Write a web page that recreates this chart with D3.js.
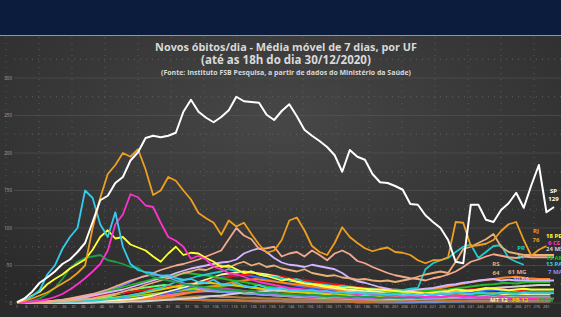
<!DOCTYPE html>
<html>
<head>
<meta charset="utf-8">
<script src="https://d3js.org/d3.v7.min.js"></script>
<style>
html, body { margin: 0; padding: 0; background: #0c1c3c; overflow: hidden; }
svg { display: block; font-family: 'Open Sans', sans-serif; }
</style>
</head>
<body>
<svg width="561" height="317"></svg>
<script>
var svg = d3.select('svg');
var svgWidth = +svg.attr('width');
var svgHeight = +svg.attr('height');

// day grids (day 1 = first day of the series)
var daysFine = d3.range(1, 286, 4);     // 72 points
var daysCoarse = d3.range(1, 284, 6);   // 48 points
var tickDays = d3.range(1, 282, 5);
var yTicks = [0, 50, 100, 150, 200, 250, 300];

// main states, every 4 days
var spValues = [1,6,15,27,34,42,52,58,68,80, 108,137,143,160,168,190,201,220,223,221,
  223,227,255,271,255,247,241,248,257,275, 269,268,267,251,244,256,265,249,231,223,
  216,208,197,175,204,195,191,172,161,160, 156,151,132,131,117,108,100,84,55,53,
  131,131,111,108,124,133,147,127,157,184, 121,128];
var rjValues = [1,3,6,10,14,20,26,32,40,50, 100,140,172,184,200,195,205,178,144,150,
  168,163,150,138,120,113,107,91,110,102, 107,92,78,67,70,84,110,114,97,76,
  68,64,80,101,88,80,73,69,72,74, 68,67,64,57,53,57,57,61,108,107,
  76,77,79,84,96,105,108,84,63,71, 76,null];
var paValues = [1,4,9,17,38,50,72,88,100,150, 140,105,88,121,75,52,44,41,40,36,
  37,33,31,32,28,27,31,25,24,27, 23,21,24,20,19,20,17,17,16,17,
  15,16,13,15,13,14,12,13,12,11, 12,10,11,10,12,11,13,12,14,13,
  12,14,13,12,14,13,12,14,13,13, 13,13];
var ceValues = [0,1,2,3,5,8,12,18,25,33, 42,52,70,105,118,145,141,130,128,107,
  88,83,75,59,63,58,48,45,40,38, 35,31,28,26,24,22,20,19,18,17,
  16,15,14,14,13,12,12,11,11,10, 10,9,10,9,8,9,8,9,10,8,
  9,7,8,7,8,7,6,7,6,6, 6,6];
var peValues = [0,3,10,15,25,32,38,46,52,58, 71,88,97,86,88,78,74,70,62,55,
  66,75,64,67,66,60,55,48,50,45, 40,42,38,36,33,30,32,28,26,25,
  24,22,22,20,21,20,19,18,18,17, 16,15,15,14,13,14,15,16,18,17,
  16,18,20,19,18,17,18,19,18,18, 18,18];
var amValues = [0,1,3,6,12,20,32,46,55,60, 62,64,57,55,52,48,47,40,35,32,
  30,28,25,24,22,21,20,18,17,17, 15,16,14,13,14,12,12,11,10,11,
  10,9,10,9,8,9,8,8,7,8, 7,7,8,7,8,9,8,9,10,9,
  10,11,12,11,13,14,13,15,16,15, 15,15];
var mgValues = [0,0,1,1,2,3,4,6,8,10, 12,15,18,22,26,30,33,36,40,44,
  47,50,52,55,58,62,66,70,85,100, 90,85,72,73,75,62,66,68,62,70,
  64,57,66,70,65,56,53,48,44,40, 37,35,33,32,30,33,35,38,42,48,
  55,58,62,65,63,61,60,62,61,61, 61,61];
var rsValues = [0,0,0,1,1,2,2,3,4,5, 6,8,10,12,15,18,20,24,27,30,
  33,36,40,42,45,44,48,50,47,52, 55,50,53,48,50,46,44,42,45,40,
  38,36,37,34,33,31,32,30,29,30, 28,30,32,35,38,40,42,40,55,72,
  75,80,85,92,75,68,66,64,64,64, 64,64];
var prValues = [0,0,0,1,1,1,2,2,2,3, 3,4,5,6,8,10,12,15,18,20,
  24,28,30,33,36,38,40,42,45,43, 40,42,38,36,35,33,30,32,28,26,
  25,24,22,23,21,20,18,19,17,16, 18,17,19,20,45,53,57,60,68,75,
  78,60,68,76,77,60,55,51,null,null, null,null];
var baValues = [0,0,1,1,2,3,4,5,6,8, 10,12,14,16,18,21,24,27,30,33,
  36,40,43,46,48,50,52,54,55,58, 66,70,73,68,60,54,51,50,48,51,
  49,47,45,40,33,29,27,24,21,19, 17,16,17,18,19,20,22,24,25,27,
  28,30,31,32,30,31,30,30,30,30, 30,30];

// smaller states, every 6 days
var esValues = [0,0,1,2,4,6,9,12, 16,20,24,28,32,35,38,40, 38,36,33,30,28,25,22,20, 18,17,16,15,14,13,12,13, 12,13,14,15,16,17,18,20, 22,24,25,27,26,28,28,28];
var msValues = [0,0,0,0,0,0,0,1, 1,1,2,2,3,4,5,6, 7,9,10,12,14,15,16,17, 18,17,16,15,14,15,14,13, 12,13,12,11,12,13,14,15, 17,18,20,21,22,23,24,24];
var mtValues = [0,0,0,0,0,1,1,2, 3,4,5,7,10,14,18,22, 28,33,38,40,42,40,38,35, 30,28,25,22,20,18,17,16, 15,14,12,11,10,10,9,9, 10,11,12,12,13,12,12,12];
var pbValues = [0,0,0,0,1,2,3,4, 6,8,10,13,16,19,22,25, 26,27,25,24,22,20,18,16, 15,14,13,12,11,11,10,10, 9,9,8,8,8,9,10,10, 11,12,13,12,12,12,12,12];
var maValues = [0,0,0,1,2,4,7,11, 16,22,28,35,38,36,30,25, 20,17,15,14,13,12,11,10, 10,9,9,8,8,8,7,7, 8,7,6,7,6,7,8,7, 7,8,7,7,7,7,7,7];
var goValues = [0,0,1,2,3,5,7,9, 11,13,15,17,19,21,23,25, 27,30,33,36,38,40,38,36, 33,31,29,27,25,23,21,20, 19,18,17,16,15,15,16,17, 18,19,20,18,17,16,15,14];
var scValues = [0,0,0,1,1,1,2,2, 3,3,4,5,6,8,10,13, 16,20,24,28,30,32,30,28, 26,24,22,20,18,16,15,14, 13,13,14,15,17,19,22,25, 28,30,32,34,35,33,32,32];
var dfValues = [0,0,0,0,1,1,2,3, 4,5,6,8,10,13,16,20, 25,30,34,36,38,35,32,28, 25,22,20,18,16,15,14,13, 12,11,10,10,11,12,13,14, 15,16,17,18,17,16,15,15];
var piValues = [0,0,0,0,1,1,2,3, 4,6,8,10,12,14,16,18, 20,22,23,24,22,20,18,17, 16,15,14,13,12,11,10,10, 9,9,10,11,12,13,14,15, 16,17,18,17,16,16,15,15];
var rnValues = [0,0,0,0,0,1,1,2, 3,4,6,8,10,13,16,18, 20,21,20,18,16,14,12,11, 10,9,8,8,7,7,6,6, 6,7,7,8,9,10,11,12, 13,12,11,11,10,10,10,10];
var alValues = [0,0,0,0,1,2,3,5, 8,12,16,20,22,24,22,20, 18,16,15,14,13,12,11,10, 9,8,8,7,7,6,6,5, 5,5,5,6,6,7,7,8, 8,9,9,9,8,8,8,8];
var seValues = [0,0,0,0,0,1,1,2, 3,5,7,9,11,13,15,17, 18,19,18,17,15,14,13,12, 11,10,9,8,8,7,7,7, 6,6,6,7,7,8,8,9, 10,11,11,10,10,10,9,9];
var acValues = [0,0,0,0,0,0,1,1, 2,2,3,3,4,4,5,5, 5,4,4,4,3,3,3,3, 2,2,2,2,2,2,1,1, 1,1,1,1,2,2,2,2, 3,3,3,3,3,3,3,3];
var apValues = [0,0,0,0,0,1,1,2, 3,4,5,6,6,5,5,4, 4,3,3,3,3,2,2,2, 2,2,2,2,2,2,1,1, 2,2,3,4,5,4,3,3, 2,2,2,2,2,2,2,2];
var roValues = [0,0,0,0,0,0,1,1, 2,3,4,6,8,10,12,14, 15,16,15,14,13,12,11,10, 9,8,7,7,6,6,5,5, 5,5,5,5,6,6,7,7, 7,8,8,8,8,8,8,8];
var rrValues = [0,0,0,0,0,1,1,2, 2,3,3,4,4,5,5,5, 5,4,4,4,3,3,3,3, 2,2,2,2,2,2,2,2, 1,1,1,1,1,1,2,2, 2,2,2,2,2,2,2,2];
var toValues = [0,0,0,0,0,0,0,1, 1,2,3,4,5,6,7,8, 9,9,8,8,7,7,6,6, 5,5,5,5,4,4,4,4, 4,4,5,5,5,5,6,6, 6,6,6,6,6,6,6,6];

// drawing order: back to front
var series = [
  {uf: 'AC', color: '#a0a0a0', days: daysCoarse, values: acValues},
  {uf: 'RR', color: '#7090d0', days: daysCoarse, values: rrValues},
  {uf: 'AP', color: '#c87030', days: daysCoarse, values: apValues},
  {uf: 'TO', color: '#b08040', days: daysCoarse, values: toValues},
  {uf: 'RO', color: '#ff66aa', days: daysCoarse, values: roValues},
  {uf: 'SE', color: '#00a0a0', days: daysCoarse, values: seValues},
  {uf: 'AL', color: '#66ff66', days: daysCoarse, values: alValues},
  {uf: 'RN', color: '#cc44aa', days: daysCoarse, values: rnValues},
  {uf: 'PI', color: '#99dd00', days: daysCoarse, values: piValues},
  {uf: 'DF', color: '#3366ff', days: daysCoarse, values: dfValues},
  {uf: 'SC', color: '#ff8020', days: daysCoarse, values: scValues},
  {uf: 'GO', color: '#ee1111', days: daysCoarse, values: goValues},
  {uf: 'MA', color: '#8c8cff', days: daysCoarse, values: maValues},
  {uf: 'PB', color: '#e6c800', days: daysCoarse, values: pbValues},
  {uf: 'MT', color: '#fff2a0', days: daysCoarse, values: mtValues},
  {uf: 'MS', color: '#d0d0d0', days: daysCoarse, values: msValues},
  {uf: 'ES', color: '#22bb22', days: daysCoarse, values: esValues},
  {uf: 'BA', color: '#d5b5ff', days: daysFine, values: baValues},
  {uf: 'PR', color: '#22cccc', days: daysFine, values: prValues},
  {uf: 'RS', color: '#e8b07a', days: daysFine, values: rsValues},
  {uf: 'MG', color: '#f4a88c', days: daysFine, values: mgValues},
  {uf: 'AM', color: '#1e9e48', days: daysFine, values: amValues},
  {uf: 'PE', color: '#ffff33', days: daysFine, values: peValues},
  {uf: 'CE', color: '#ff33cc', days: daysFine, values: ceValues},
  {uf: 'PA', color: '#33ccee', days: daysFine, values: paValues},
  {uf: 'RJ', color: '#ee9f1f', days: daysFine, values: rjValues},
  {uf: 'SP', color: '#ffffff', days: daysFine, values: spValues}
];

// end-of-line labels (day, value where the text sits)
var endLabels = [
  {t: 'SP', c: '#ffffff', day: 284.7, v: 147, a: 'middle'},
  {t: '129', c: '#ffffff', day: 284.7, v: 136, a: 'middle'},
  {t: 'RJ', c: '#ee9f1f', day: 275.5, v: 93, a: 'middle'},
  {t: '76', c: '#ee9f1f', day: 275.5, v: 81, a: 'middle'},
  {t: 'PR', c: '#22cccc', day: 267.6, v: 71, a: 'middle'},
  {t: '51', c: '#22cccc', day: 267.6, v: 59, a: 'middle'},
  {t: 'RS', c: '#e8b07a', day: 254.3, v: 49, a: 'middle'},
  {t: '64', c: '#e8b07a', day: 254.3, v: 37, a: 'middle'},
  {t: '61 MG', c: '#f4a88c', day: 260.7, v: 39, a: 'start'},
  {t: '30 BA', c: '#d5b5ff', day: 263.3, v: 30, a: 'start'},
  {t: '18 PE', c: '#ffff33', day: 280.8, v: 87, a: 'start'},
  {t: '6 CE', c: '#ff33cc', day: 281.8, v: 77, a: 'start'},
  {t: '24 MS', c: '#d0d0d0', day: 280.8, v: 69, a: 'start'},
  {t: '15 AM', c: '#22bb22', day: 280.8, v: 57, a: 'start'},
  {t: '13 PA', c: '#33ccee', day: 280.8, v: 49, a: 'start'},
  {t: '7 MA', c: '#8c8cff', day: 281.8, v: 39, a: 'start'},
  {t: 'MT 12', c: '#fff2a0', day: 251.2, v: 1.3, a: 'start'},
  {t: 'PB 12', c: '#e6c800', day: 262.8, v: 1.3, a: 'start'},
  {t: 'ES 28', c: '#22bb22', day: 276.6, v: 1.3, a: 'start'}
];

var x = d3.scaleLinear().domain([1, 285]).range([17, 554]);
var y = d3.scaleLinear().domain([0, 350]).range([303, 40.5]);

// background
var defs = svg.append('defs');
var grad = defs.append('radialGradient')
    .attr('id', 'bg')
    .attr('cx', '50%')
    .attr('cy', '30%')
    .attr('r', '75%');
grad.append('stop').attr('offset', '0%').attr('stop-color', '#474747');
grad.append('stop').attr('offset', '100%').attr('stop-color', '#2a2a2a');

svg.append('rect')
    .attr('x', 0).attr('y', 36)
    .attr('width', svgWidth).attr('height', svgHeight - 36)
    .attr('fill', 'url(#bg)');
svg.append('rect')
    .attr('x', 0).attr('y', 0)
    .attr('width', svgWidth).attr('height', 35)
    .attr('fill', '#0c1c3c');
svg.append('line')
    .attr('x1', 0).attr('x2', svgWidth)
    .attr('y1', 35.5).attr('y2', 35.5)
    .attr('stroke', '#8f96a3')
    .attr('stroke-width', 1);

// grid
var grid = svg.append('g').attr('class', 'grid');
grid.selectAll('.hgrid')
    .data(d3.range(0, 350, 25))
    .enter()
    .append('line')
    .attr('class', 'hgrid')
    .attr('x1', 14).attr('x2', svgWidth)
    .attr('y1', function(d) { return y(d); })
    .attr('y2', function(d) { return y(d); })
    .attr('stroke', function(d) { return d % 50 == 0 ? '#555555' : '#6a6a6a'; })
    .attr('stroke-width', function(d) { return d % 50 == 0 ? 0.6 : 0.8; })
    .attr('stroke-dasharray', function(d) { return d % 50 == 0 ? null : '1,5'; });
grid.selectAll('.vgrid')
    .data(d3.range(6, svgWidth, 33))
    .enter()
    .append('line')
    .attr('class', 'vgrid')
    .attr('x1', function(d) { return d; })
    .attr('x2', function(d) { return d; })
    .attr('y1', 37).attr('y2', y(0))
    .attr('stroke', '#626262')
    .attr('stroke-width', 0.8)
    .attr('stroke-dasharray', '1,5');

// axes labels
svg.selectAll('.ylab')
    .data(yTicks)
    .enter()
    .append('text')
    .attr('class', 'ylab')
    .attr('x', 12)
    .attr('y', function(d) { return y(d) + 1.5; })
    .text(function(d) { return d; })
    .style('text-anchor', 'end')
    .style('font-size', '4.5px')
    .style('fill', '#a8a8a8');
svg.selectAll('.xlab')
    .data(tickDays)
    .enter()
    .append('text')
    .attr('class', 'xlab')
    .attr('x', function(d) { return x(d); })
    .attr('y', 308)
    .text(function(d) { return d; })
    .style('text-anchor', 'middle')
    .style('font-size', '4px')
    .style('fill', '#b4b4b4');

// lines
var line = d3.line()
    .defined(function(d) { return d.v != null; })
    .x(function(d) { return x(d.day); })
    .y(function(d) { return y(d.v); });

svg.append('g').selectAll('path')
    .data(series)
    .enter()
    .append('path')
    .attr('d', function(s) {
        return line(s.days.map(function(day, i) {
            return {day: day, v: s.values[i] === undefined ? null : s.values[i]};
        }));
    })
    .attr('fill', 'none')
    .attr('stroke', function(s) { return s.color; })
    .attr('stroke-width', function(s) { return s.uf == 'SP' ? 2 : 1.8; })
    .attr('stroke-linejoin', 'round');

// end labels
svg.selectAll('.endlab')
    .data(endLabels)
    .enter()
    .append('text')
    .attr('class', 'endlab')
    .attr('x', function(d) { return x(d.day); })
    .attr('y', function(d) { return y(d.v); })
    .text(function(d) { return d.t; })
    .style('text-anchor', function(d) { return d.a; })
    .style('font-size', '6px')
    .style('font-weight', 'bold')
    .style('fill', function(d) { return d.c; });

// titles, each fitted to the width it has in the picture
var titles = [
    {t: 'Novos óbitos/dia - Média móvel de 7 dias, por UF', y: 50.5, w: 262, size: 11},
    {t: '(até as 18h do dia 30/12/2020)', y: 64, w: 170, size: 11},
    {t: '(Fonte: Instituto FSB Pesquisa, a partir de dados do Ministério da Saúde)', y: 74.5, w: 250, size: 6}
];
titles.forEach(function(tt) {
    var txt = svg.append('text')
        .attr('x', 286)
        .attr('y', tt.y)
        .text(tt.t)
        .style('text-anchor', 'middle')
        .style('font-weight', 'bold')
        .style('font-size', tt.size + 'px')
        .style('fill', '#d9d9d9');
    var w = txt.node().getComputedTextLength();
    txt.style('font-size', (tt.size * tt.w / w) + 'px');
});
</script>
</body>
</html>
